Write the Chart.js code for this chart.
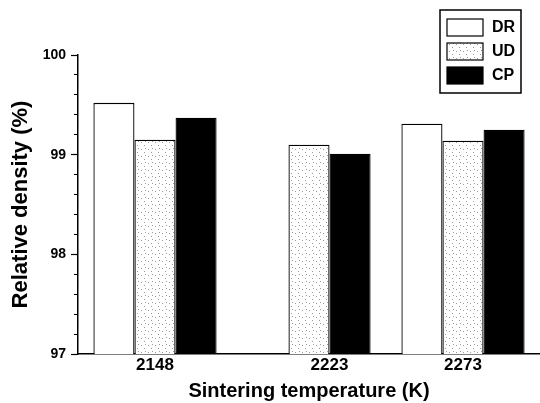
<!DOCTYPE html>
<html><head><meta charset="utf-8">
<script src="https://cdn.jsdelivr.net/npm/chart.js@4"></script>
<style>html,body{margin:0;padding:0;background:#fff}#wrap{width:540px;height:403px;position:relative}</style>
</head><body><div id="wrap"><canvas id="c" width="540" height="403"></canvas></div>
<script>
const categories = ['2148', '2223', '2273'];
const seriesNames = ['DR', 'UD', 'CP'];
const drValues = [99.52, null, 99.31];
const udValues = [99.15, 99.10, 99.14];
const cpValues = [99.37, 99.01, 99.25];
const yTickLabels = [97, 98, 99, 100];
const xTitle = 'Sintering temperature (K)';
const yTitle = 'Relative density (%)';

const FONT = '"Liberation Sans", Arial, sans-serif';

function makeSpeckle() {
  const p = document.createElement('canvas');
  p.width = 7; p.height = 7;
  const g = p.getContext('2d');
  g.fillStyle = '#fff'; g.fillRect(0, 0, 7, 7);
  g.fillStyle = '#9a9a9a';
  [[1, 2], [4, 5], [5, 1]].forEach(([x, y]) => g.fillRect(x, y, 1, 1));
  return g.createPattern(p, 'repeat');
}
const speckle = makeSpeckle();

const xLabelPlugin = {
  id: 'xLabels',
  afterDraw(chart) {
    const ctx = chart.ctx;
    ctx.save();
    ctx.font = 'bold 17px ' + FONT;
    ctx.fillStyle = '#000';
    ctx.textAlign = 'center';
    ctx.textBaseline = 'middle';
    categories.forEach((lab, j) => {
      const xs = [];
      chart.data.datasets.forEach((d, i) => {
        if (d.data[j] != null) xs.push(chart.getDatasetMeta(i).data[j].x);
      });
      const cx = xs.reduce((a, b) => a + b, 0) / xs.length;
      ctx.fillText(lab, cx, chart.chartArea.bottom + 11);
    });
    ctx.restore();
  }
};

const legendPlugin = {
  id: 'boxLegend',
  afterDraw(chart) {
    const ctx = chart.ctx;
    const x0 = 440, y0 = 10, w = 81, h = 83;
    ctx.save();
    ctx.fillStyle = '#fff';
    ctx.fillRect(x0, y0, w, h);
    ctx.lineWidth = 1.5;
    ctx.strokeStyle = '#000';
    ctx.strokeRect(x0, y0, w, h);
    chart.data.datasets.forEach((d, i) => {
      const sy = y0 + 9 + i * 24;
      ctx.fillStyle = d.backgroundColor;
      ctx.fillRect(x0 + 7, sy, 36, 17);
      ctx.lineWidth = 1.2;
      ctx.strokeRect(x0 + 7, sy, 36, 17);
      ctx.fillStyle = '#000';
      ctx.font = 'bold 16px ' + FONT;
      ctx.textBaseline = 'middle';
      ctx.textAlign = 'left';
      ctx.fillText(d.label, x0 + 52, sy + 9);
    });
    ctx.restore();
  }
};

const isMajor = v => Math.abs(v - Math.round(v)) < 1e-6 && yTickLabels.includes(Math.round(v));

new Chart(document.getElementById('c'), {
  type: 'bar',
  data: {
    labels: categories,
    datasets: [
      { label: seriesNames[0], data: drValues, backgroundColor: '#ffffff', borderColor: '#000', borderWidth: 1.3 },
      { label: seriesNames[1], data: udValues, backgroundColor: speckle, borderColor: '#000', borderWidth: 1.3 },
      { label: seriesNames[2], data: cpValues, backgroundColor: '#000000', borderColor: '#000', borderWidth: 1.3 }
    ]
  },
  options: {
    responsive: false,
    animation: false,
    devicePixelRatio: 1,
    layout: { padding: { left: 0, right: -5, top: 55, bottom: 0 } },
    datasets: { bar: { categoryPercentage: 0.8, barPercentage: 1.0, borderSkipped: 'bottom' } },
    plugins: { legend: { display: false }, tooltip: { enabled: false } },
    scales: {
      x: {
        grid: { display: false },
        border: { display: true, color: '#000', width: 1.5 },
        ticks: { display: false },
        title: { display: true, text: xTitle, color: '#000', font: { family: FONT, size: 20, weight: 'bold' }, padding: { top: 0, bottom: 0 } },
        afterFit: s => { s.height = 49; }
      },
      y: {
        min: 97, max: 100,
        grid: {
          display: true, drawOnChartArea: false, drawTicks: true, tickLength: 7,
          tickColor: '#000', tickWidth: 1.2,
          tickBorderDash: c => (c.tick && isMajor(c.tick.value)) ? [] : [0, 3, 4, 20]
        },
        border: { display: true, color: '#000', width: 1.5 },
        ticks: {
          stepSize: 0.2, autoSkip: false, color: '#000', padding: 5,
          font: { family: FONT, size: 14, weight: 'bold' },
          callback: v => isMajor(v) ? String(Math.round(v)) : ''
        },
        title: { display: true, text: yTitle, color: '#000', font: { family: FONT, size: 22, weight: 'bold' }, padding: { top: 8, bottom: 0 } },
        afterFit: s => { s.width = 78; }
      }
    }
  },
  plugins: [xLabelPlugin, legendPlugin]
});
</script></body></html>
